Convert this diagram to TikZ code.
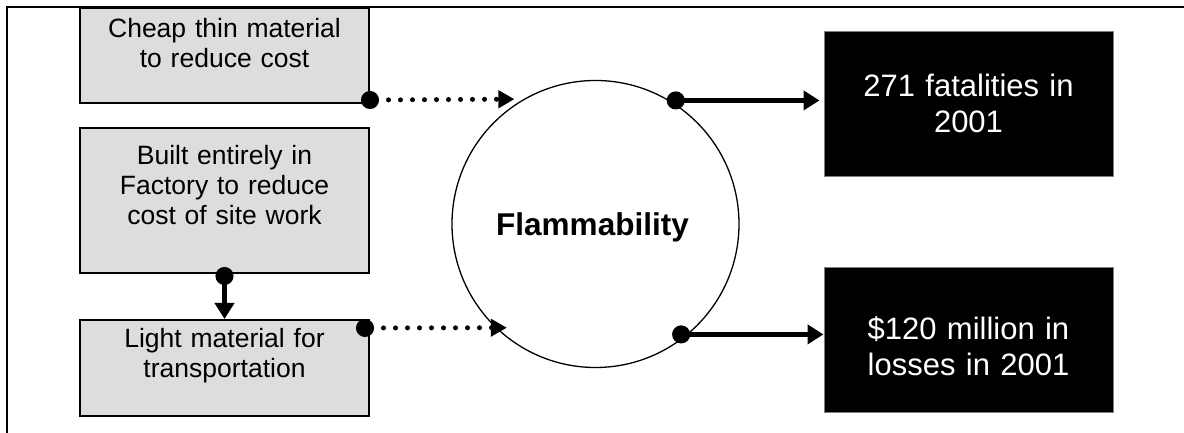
\documentclass[tikz,border=0pt]{standalone}
\usepackage{fontspec}
\setmainfont{Liberation Sans}
\usepackage{xcolor}
\usetikzlibrary{arrows.meta, positioning}
\definecolor{boxgrey}{HTML}{DDDDDD}
\definecolor{edgegrey}{HTML}{808080}

\begin{document}
\begin{tikzpicture}[x=1pt, y=1pt,
  cause/.style={rectangle, draw, line width=2pt, fill=boxgrey, inner sep=0pt, text width=289pt, align=center, font=\fontsize{26.5}{30}\selectfont},
  effect/.style={rectangle, draw=edgegrey, line width=1pt, fill=black, text=white, inner sep=0pt, text width=289pt, align=center, font=\fontsize{31}{36}\selectfont},
  hazard/.style={circle, draw, line width=1.3pt, minimum size=287pt, inner sep=0pt, text depth=0pt, font=\fontsize{31.5}{36}\selectfont\bfseries},
  weak/.style={line width=5pt, line cap=round, dash pattern=on 0pt off 12pt, shorten <=-9pt, {Circle[length=18pt]}-{Triangle[length=16pt, width=17pt]}},
  strong/.style={line width=5.5pt, shorten <=-9pt, {Circle[length=18pt]}-{Triangle[length=16pt, width=19pt]}}
]
\useasboundingbox (0,0) rectangle (1184,433);
\draw[line width=2pt] (7,0) -- (7,426) -- (1184,426);

\node[cause, text height=30pt, text depth=65pt] (cheap) at (224.5,377.5) {Cheap thin material\\to reduce cost};
\node[cause, text height=37pt, text depth=108pt, below=23pt of cheap] (factory) {Built entirely in\\Factory to reduce\\cost of site work};
\node[cause, text height=28pt, text depth=68pt, below=45pt of factory] (light) {Light material for\\transportation};
\node[hazard] (flam) at (595.5,209) {\hspace*{-6pt}Flammability};
\node[effect, text height=65pt, text depth=80pt] (fatal) at (968.5,328.5) {271 fatalities in\\2001};
\node[effect, text height=72pt, text depth=73pt, below=90pt of fatal] (loss) {\$120 million in\\losses in 2001};

\coordinate (out1) at ([xshift=6pt]flam.59.4);
\coordinate (out2) at ([xshift=-7pt]flam.310.2);

\draw[weak] ([yshift=4pt]cheap.south east) -- ([xshift=-9pt]flam.120.6);
\draw[weak] ([shift={(-5pt,-9pt)}]light.north east) -- ([xshift=11.5pt]flam.226.2);
\draw[strong] ([yshift=-2pt]factory.south) -- (light.north);
\draw[strong] (out1) -- ([xshift=-4pt]out1 -| fatal.west);
\draw[strong] (out2) -- (out2 -| loss.west);
\end{tikzpicture}
\end{document}
